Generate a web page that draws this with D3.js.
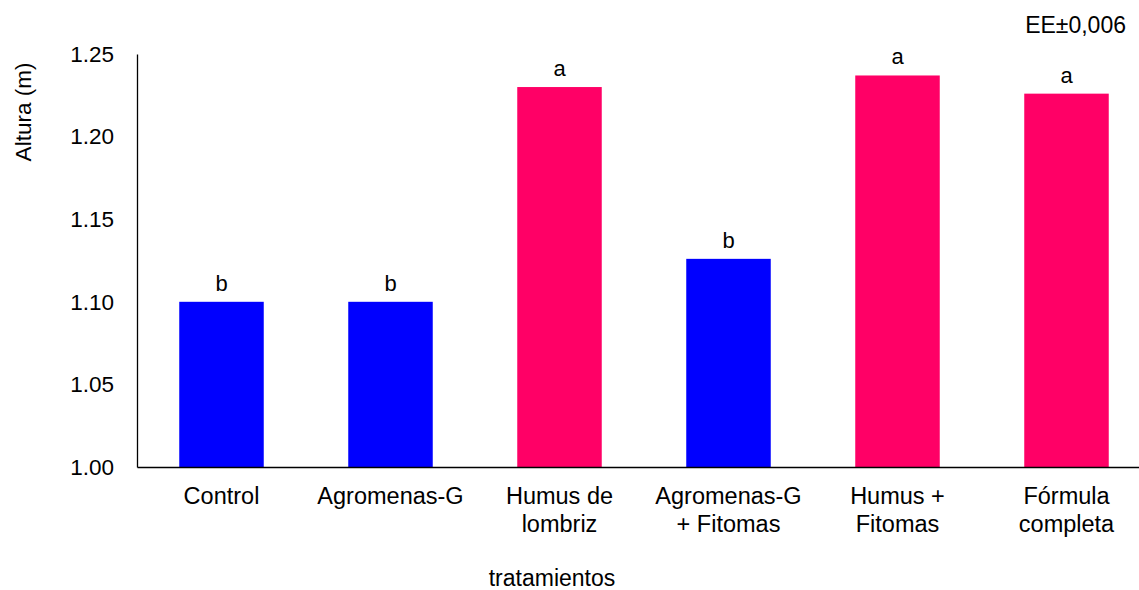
<!DOCTYPE html>
<html>
<head>
<meta charset="utf-8">
<script src="https://cdn.jsdelivr.net/npm/d3@7"></script>
<style>
    body { margin: 0; background: #fff; }
    svg { display: block; font-family: Arial, "Liberation Sans", sans-serif; }
</style>
</head>
<body>
<div id="chart"></div>
<script>
// treatments and mean plant height (m)
const treatments = [
    ["Control"],
    ["Agromenas-G"],
    ["Humus de", "lombriz"],
    ["Agromenas-G", "+ Fitomas"],
    ["Humus +", "Fitomas"],
    ["Fórmula", "completa"]
];
const heights = [1.100, 1.100, 1.230, 1.126, 1.237, 1.226];
const letters = ["b", "b", "a", "b", "a", "a"];
const yTicks = [1.00, 1.05, 1.10, 1.15, 1.20, 1.25];

const width = 1139, height = 590;
const margin = {top: 54, left: 137, bottom: 123};

const svg = d3.select("#chart").append("svg")
    .attr("width", width)
    .attr("height", height);

// scales
const x = d3.scaleBand()
    .domain(d3.range(treatments.length))
    .range([margin.left, margin.left + 1014])
    .paddingInner(0.5)
    .paddingOuter(0.25);

const y = d3.scaleLinear()
    .domain([1.00, 1.25])
    .range([height - margin.bottom, margin.top]);

// bars, blue for "b" group, pink for "a" group
svg.selectAll(".bar")
    .data(heights)
    .enter()
    .append("rect")
    .attr("class", "bar")
    .attr("x", (d, i) => x(i))
    .attr("y", d => y(d))
    .attr("width", x.bandwidth())
    .attr("height", d => y(1.00) - y(d))
    .attr("fill", (d, i) => letters[i] === "a" ? "#FF0066" : "#0000FF");

// significance letters
svg.selectAll(".letter")
    .data(heights)
    .enter()
    .append("text")
    .attr("class", "letter")
    .attr("x", (d, i) => x(i) + x.bandwidth() / 2)
    .attr("y", d => y(d) - 11)
    .attr("text-anchor", "middle")
    .attr("font-size", 22)
    .attr("fill", "#000")
    .text((d, i) => letters[i]);

// y axis
const yAxis = svg.append("g")
    .attr("transform", `translate(${margin.left},0)`)
    .call(d3.axisLeft(y).tickValues(yTicks).tickFormat(d3.format(".2f")).tickSize(0).tickPadding(23));
yAxis.select(".domain").attr("stroke", "#000").attr("stroke-width", 1.3);
yAxis.selectAll("text").attr("font-size", 22.5).attr("fill", "#000").attr("font-family", null);

// x axis (baseline + wrapped category labels)
const xAxis = svg.append("g")
    .attr("transform", `translate(0,${y(1.00)})`)
    .call(d3.axisBottom(x).tickSize(0).tickFormat(""));
xAxis.select(".domain").attr("stroke", "#000").attr("stroke-width", 1.3);

svg.selectAll(".cat")
    .data(treatments)
    .enter()
    .append("text")
    .attr("class", "cat")
    .attr("text-anchor", "middle")
    .attr("font-size", 23.5)
    .attr("fill", "#000")
    .each(function(lines, i) {
        d3.select(this).selectAll("tspan")
            .data(lines)
            .enter()
            .append("tspan")
            .attr("x", x(i) + x.bandwidth() / 2)
            .attr("y", (l, j) => y(1.00) + 37 + j * 28)
            .text(l => l);
    });

// axis titles
svg.append("text")
    .attr("x", 552)
    .attr("y", 586)
    .attr("text-anchor", "middle")
    .attr("font-size", 23)
    .text("tratamientos");

svg.append("text")
    .attr("transform", "translate(31,112) rotate(-90)")
    .attr("text-anchor", "middle")
    .attr("font-size", 22.5)
    .text("Altura (m)");

// standard error note
svg.append("text")
    .attr("x", 1126)
    .attr("y", 33)
    .attr("text-anchor", "end")
    .attr("font-size", 23)
    .text("EE±0,006");
</script>
</body>
</html>
